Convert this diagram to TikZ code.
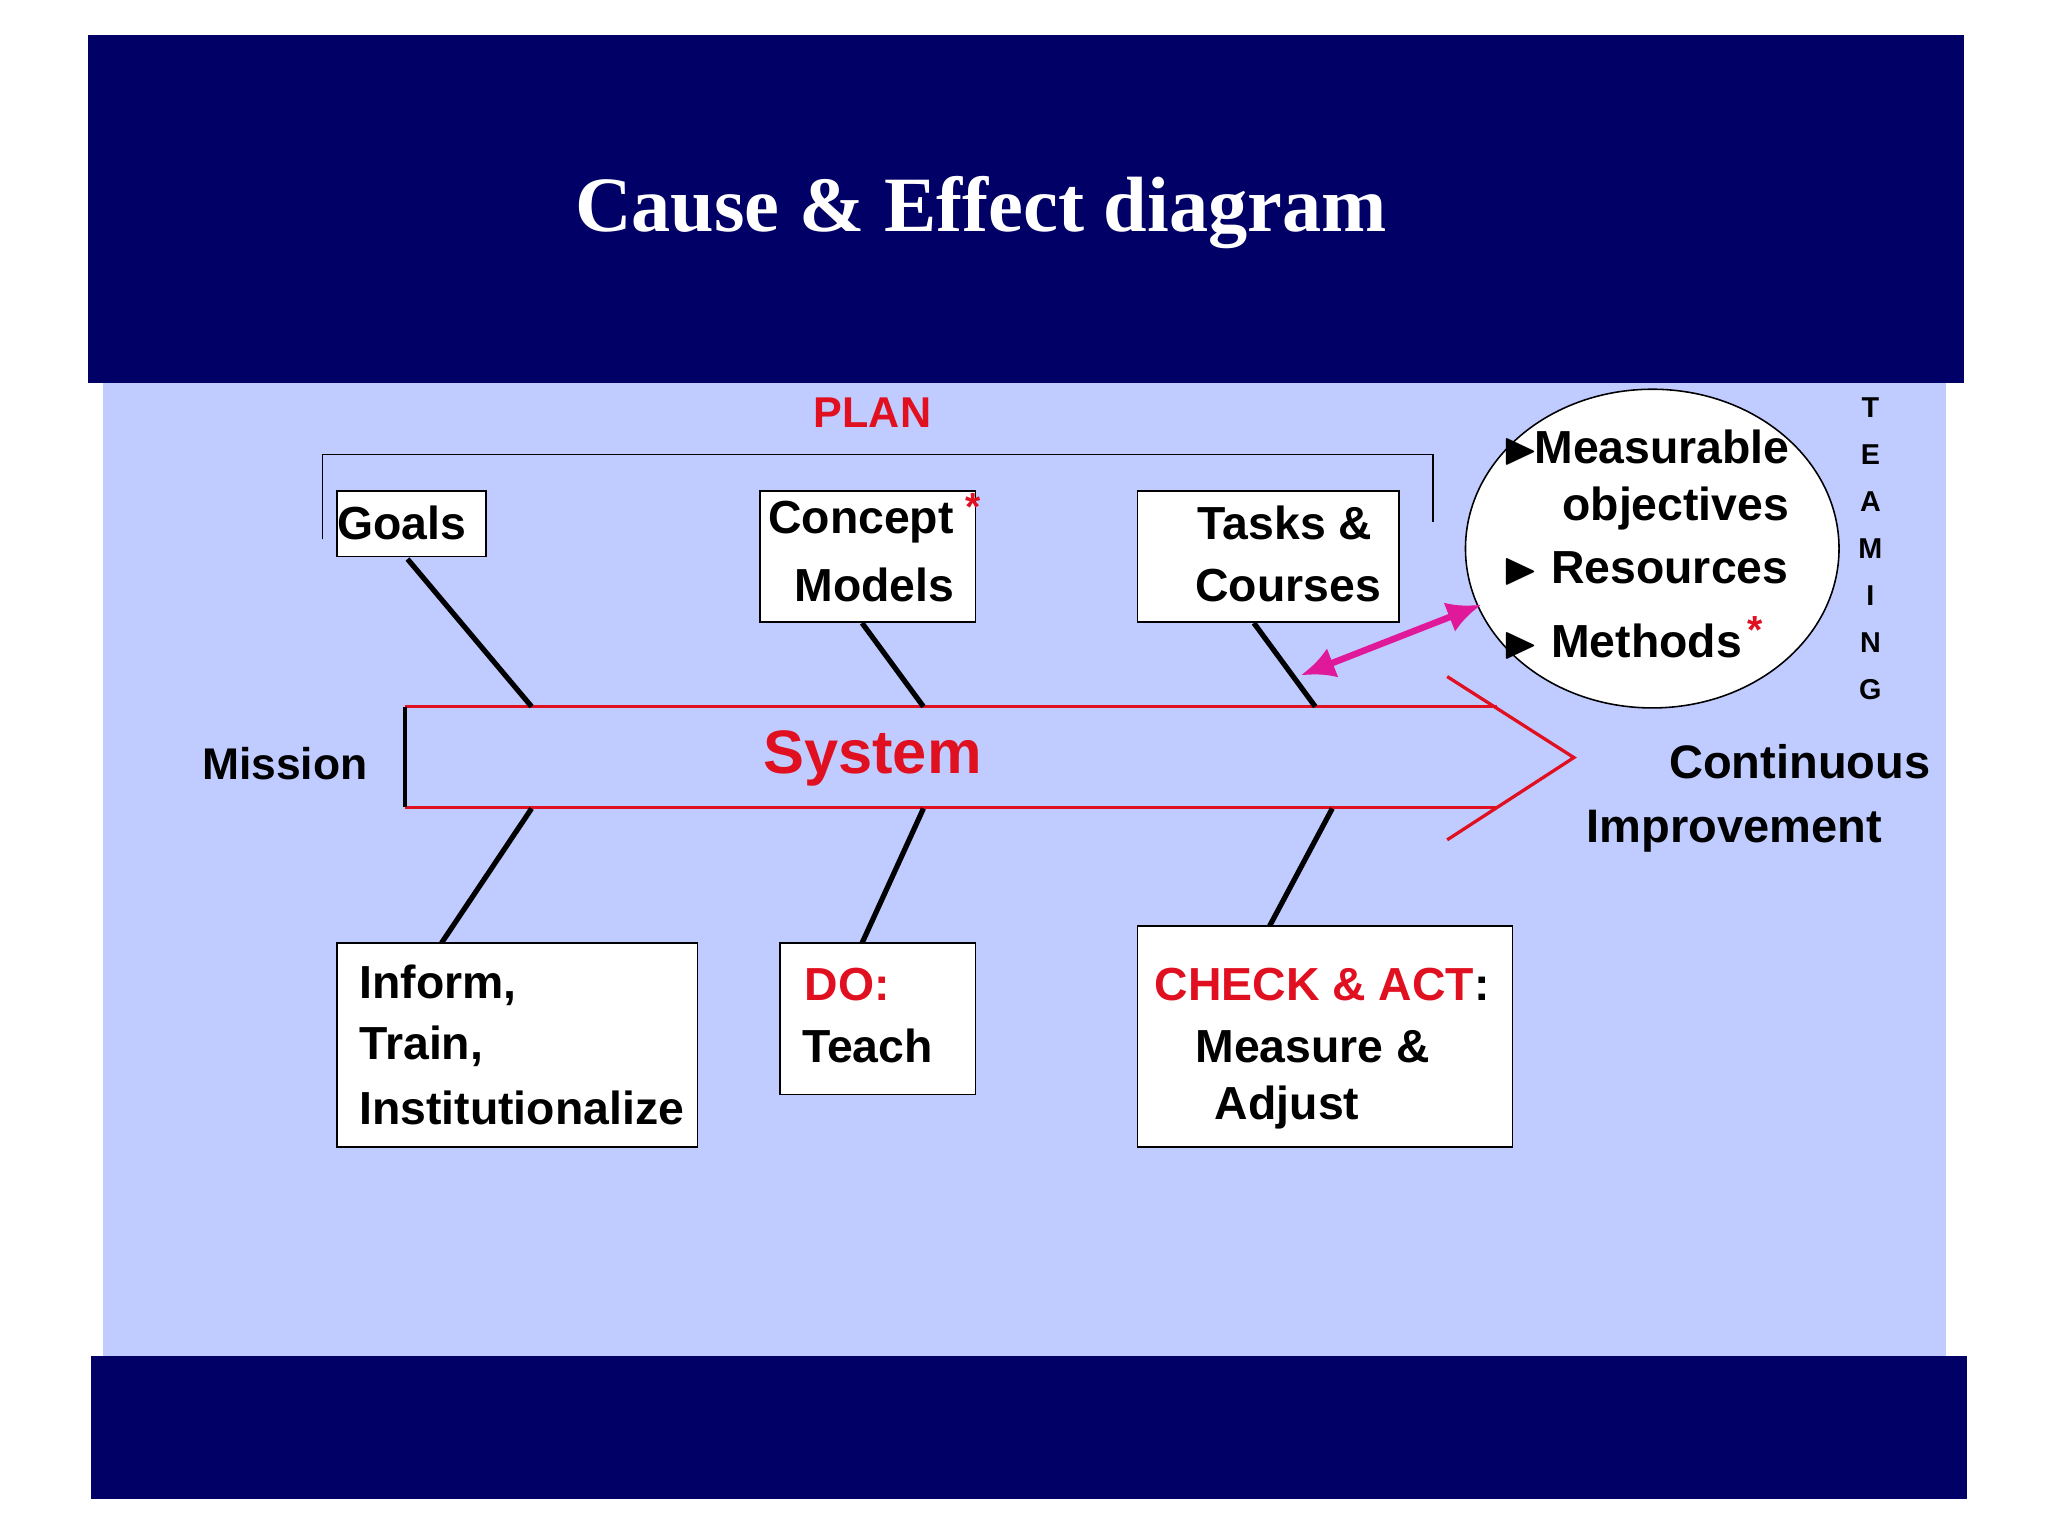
\documentclass[tikz,border=0pt]{standalone}
\usepackage{amssymb}
\usepackage{fontspec}
\setmainfont{Liberation Sans}
\newfontfamily\ttlfont{Liberation Serif}
\usetikzlibrary{arrows.meta}
\definecolor{navy}{HTML}{000066}
\definecolor{panel}{HTML}{C0CCFF}
\definecolor{sred}{HTML}{E01020}
\definecolor{mag}{HTML}{E0189A}
\begin{document}
\begin{tikzpicture}[x=1pt,y=-1pt,
  box/.style={draw=black,line width=1.2pt,fill=white},
  txt/.style={font=\fontsize{35.5}{38}\selectfont\bfseries,inner sep=0pt,anchor=west},
  bone/.style={line width=4pt,black},
  tm/.style={font=\fontsize{22}{24}\selectfont\bfseries,inner sep=0pt}]
\useasboundingbox (0,0) rectangle (1568,1176);
\fill[white] (0,0) rectangle (1568,1176);
\fill[panel] (79,293) rectangle (1490,1038);
\fill[navy] (67,27) rectangle (1504,293);
\fill[navy] (70,1038) rectangle (1506,1148);
\node[white,font=\ttlfont\fontsize{60}{64}\selectfont\bfseries] (title) at (751,163) {Cause \& Effect diagram};
\node[sred,font=\fontsize{33}{35}\selectfont\bfseries] (plan) at (668,316) {PLAN};
\draw[line width=1.2pt] (247,413) -- (247,348) -- (1097,348) -- (1097,400);
% boxes
\draw[box] (258,376) rectangle (372,426); \node[txt] (goals) at (258,400) {Goals};
\draw[box] (582,376) rectangle (747,476);
\node[txt] (cm1) at (588,400) {Concept}; \node[txt] (cm2) at (608,448) {Models};
\node[sred,font=\fontsize{30}{30}\selectfont\bfseries] (ast1) at (745,388) {*};
\draw[box] (871,376) rectangle (1071,476);
\node[txt] (tc1) at (917,400) {Tasks \&}; \node[txt] (tc2) at (915,448) {Courses};
% circle
\draw[line width=1.2pt,fill=white] (1265,420) ellipse [x radius=143,y radius=122];
\node[txt] (m1) at (1150,343) {$\blacktriangleright$\hspace{-3pt}Measurable};
\node[txt] (m2) at (1196,389) {objectives};
\node[txt] (m3) at (1150,435) {$\blacktriangleright$ Resources};
\node[txt] (m4) at (1150,491) {$\blacktriangleright$ Methods};
\node[sred,font=\fontsize{30}{30}\selectfont\bfseries] (ast2) at (1344,482) {*};
% TEAMING
\foreach \l [count=\i] in {T,E,A,M,I,N,G}
  \node[tm] (t\i) at (1432,{276+36*\i}) {\l};
% system arrow
\coordinate (tl) at (310,541); \coordinate (bl) at (310,618);
\coordinate (tr) at (1146,541); \coordinate (br) at (1146,618);
\coordinate (h1) at (1108,518); \coordinate (hp) at (1205,580); \coordinate (h2) at (1108,643);
\draw[sred,line width=2.5pt] (tl) -- (tr) (bl) -- (br);
\draw[sred,line width=2.5pt,line join=miter] (h1) -- (hp) -- (h2);
\draw[black,line width=2.5pt] (tl) -- (bl);
\node[sred,font=\fontsize{47}{50}\selectfont\bfseries] (sys) at (668,581) {System};
\node[font=\fontsize{34}{36}\selectfont\bfseries] (mis) at (218,585) {Mission};
\node[font=\fontsize{36}{38}\selectfont\bfseries] (ci1) at (1378,583) {Continuous};
\node[font=\fontsize{36}{38}\selectfont\bfseries] (ci2) at (1328,636) {Improvement};
% bones
\draw[bone] (312,428) -- (407,541);
\draw[bone] (660,477) -- (707,541);
\draw[bone] (960,477) -- (1007,541);
\draw[bone] (407,619) -- (338,722);
\draw[bone] (707,619) -- (660,722);
\draw[bone] (1020,619) -- (972,709);
\draw[mag,line width=5pt,{Latex[length=26pt,width=24pt]}-{Latex[length=26pt,width=24pt]}] (996,517) -- (1134,463);
% lower boxes
\draw[box] (258,722) rectangle (534,878);
\node[txt] (i1) at (275,754) {Inform,}; \node[txt] (i2) at (275,801) {Train,}; \node[txt] (i3) at (275,848) {Institutionalize};
\draw[box] (597,722) rectangle (747,838);
\node[txt,sred] (d1) at (616,754) {DO:}; \node[txt] (d2) at (614,801) {Teach};
\draw[box] (871,709) rectangle (1158,878);
\node[txt] (c1) at (884,754) {\textcolor{sred}{CHECK \& ACT}:};
\node[txt] (c2) at (915,801) {Measure \&}; \node[txt] (c3) at (930,848) {Adjust};
\end{tikzpicture}
\end{document}
